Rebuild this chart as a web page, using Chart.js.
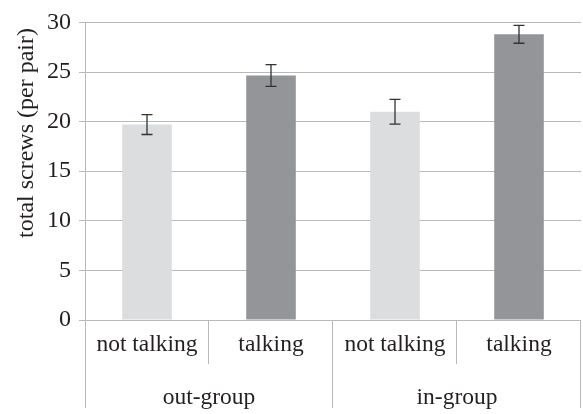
<!DOCTYPE html>
<html>
<head>
<meta charset="utf-8">
<script src="https://cdn.jsdelivr.net/npm/chart.js@4/dist/chart.umd.min.js"></script>
<style>
  html, body { margin: 0; padding: 0; background: #fff; }
  #wrap { width: 583px; height: 414px; }
</style>
</head>
<body>
<div id="wrap"><canvas id="c" width="583" height="414"></canvas></div>
<script>
// Groups and conditions (two-level category axis)
const groups = ['out-group', 'in-group'];
const conditions = ['not talking', 'talking'];
// Mean total screws per pair and their error bar half-widths, in group order
const means = [19.7, 24.65, 21.0, 28.8];
const errors = [1.0, 1.1, 1.25, 0.9];
const yTicks = [0, 5, 10, 15, 20, 25, 30];

const FONT = "'Liberation Serif', 'DejaVu Serif', serif";
const TEXT = '#231f20';
const LINE = '#b9b9b9';
const barColors = ['#dcdddf', '#939598', '#dcdddf', '#939598'];

const labels = [];
groups.forEach(g => conditions.forEach(c => labels.push(c + '|' + g)));

const errorBars = {
  id: 'errorBars',
  afterDatasetsDraw(chart) {
    const ctx = chart.ctx, x = chart.scales.x, y = chart.scales.y;
    ctx.save();
    ctx.strokeStyle = '#333';
    ctx.lineWidth = 1.3;
    means.forEach((m, i) => {
      const px = x.getPixelForValue(i);
      const top = y.getPixelForValue(m + errors[i]);
      const bot = y.getPixelForValue(m - errors[i]);
      ctx.beginPath();
      ctx.moveTo(px, top); ctx.lineTo(px, bot);
      ctx.moveTo(px - 5.5, top); ctx.lineTo(px + 5.5, top);
      ctx.moveTo(px - 5.5, bot); ctx.lineTo(px + 5.5, bot);
      ctx.stroke();
    });
    ctx.restore();
  }
};

const groupedAxis = {
  id: 'groupedAxis',
  afterDraw(chart) {
    const ctx = chart.ctx, x = chart.scales.x, y = chart.scales.y;
    const area = chart.chartArea;
    const base = y.getPixelForValue(0);
    const n = labels.length;
    const step = (area.right - area.left) / n;
    const rowH = 44, bottom = base + 88;
    ctx.save();
    ctx.strokeStyle = LINE;
    ctx.lineWidth = 1;
    // left axis line, running down through the label rows
    ctx.beginPath();
    ctx.moveTo(Math.round(area.left) + 0.5, area.top);
    ctx.lineTo(Math.round(area.left) + 0.5, bottom);
    ctx.stroke();
    // separators between categories and groups
    for (let i = 1; i <= n; i++) {
      const bx = Math.round(area.left + i * step) - 0.5;
      const isGroup = i % conditions.length === 0;
      ctx.beginPath();
      ctx.moveTo(bx, base);
      ctx.lineTo(bx, isGroup ? bottom : base + rowH);
      ctx.stroke();
    }
    ctx.fillStyle = TEXT;
    ctx.textAlign = 'center';
    ctx.textBaseline = 'middle';
    ctx.font = '23.5px ' + FONT;
    labels.forEach((l, i) => {
      ctx.fillText(l.split('|')[0], x.getPixelForValue(i), base + 25);
    });
    groups.forEach((g, gi) => {
      const i0 = gi * conditions.length;
      const cx = (x.getPixelForValue(i0) + x.getPixelForValue(i0 + conditions.length - 1)) / 2;
      ctx.fillText(g, cx, base + 78);
    });
    // y axis title
    ctx.font = '24px ' + FONT;
    ctx.translate(27, 133);
    ctx.rotate(-Math.PI / 2);
    ctx.fillText('total screws (per pair)', 0, 0);
    ctx.restore();
  }
};

function build() {
  new Chart(document.getElementById('c'), {
    type: 'bar',
    data: {
      labels: labels,
      datasets: [{
        data: means,
        backgroundColor: barColors,
        borderWidth: 0,
        barPercentage: 0.4,
        categoryPercentage: 1.0
      }]
    },
    options: {
      responsive: false,
      animation: false,
      devicePixelRatio: 1,
      layout: { padding: { top: 17, right: 2, bottom: 94, left: 0 } },
      plugins: { legend: { display: false }, tooltip: { enabled: false } },
      scales: {
        x: { display: false },
        y: {
          min: 0, max: 30,
          afterFit(scale) { scale.width = 85; },
          afterBuildTicks(scale) { scale.ticks = yTicks.map(v => ({ value: v })); },
          border: { display: false },
          grid: { color: LINE, lineWidth: 1, tickLength: 6, drawTicks: true },
          ticks: {
            padding: 8,
            color: TEXT,
            font: { family: FONT, size: 24 }
          }
        }
      }
    },
    plugins: [errorBars, groupedAxis]
  });
}

document.fonts.load("23px 'Liberation Serif'").then(build, build);
</script>
</body>
</html>
